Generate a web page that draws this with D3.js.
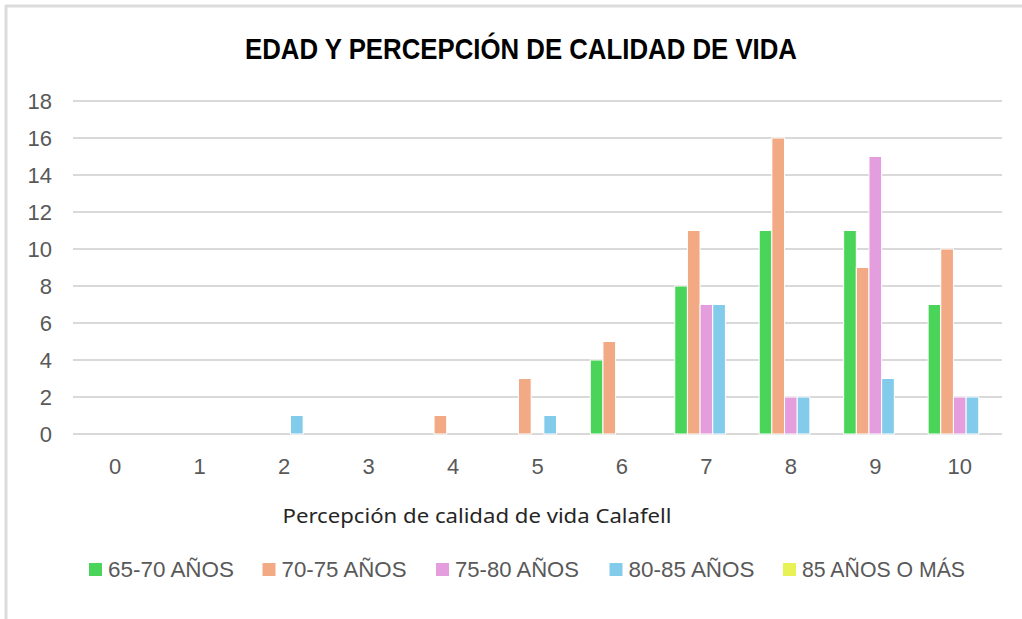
<!DOCTYPE html>
<html>
<head>
<meta charset="utf-8">
<script src="https://cdn.jsdelivr.net/npm/d3@7"></script>
<style>
  body { margin: 0; background: #fff; }
</style>
</head>
<body>
<div id="chart"></div>
<script>
// chart data
const categories = ["0", "1", "2", "3", "4", "5", "6", "7", "8", "9", "10"];
const seriesNames = ["65-70 AÑOS", "70-75 AÑOS", "75-80 AÑOS", "80-85 AÑOS", "85 AÑOS O MÁS"];
const s6570 = [0, 0, 0, 0, 0, 0, 4, 8, 11, 11, 7];
const s7075 = [0, 0, 0, 0, 1, 3, 5, 11, 16, 9, 10];
const s7580 = [0, 0, 0, 0, 0, 0, 0, 7, 2, 15, 2];
const s8085 = [0, 0, 1, 0, 0, 1, 0, 7, 2, 3, 2];
const s85 = [0, 0, 0, 0, 0, 0, 0, 0, 0, 0, 0];
const yTicks = [0, 2, 4, 6, 8, 10, 12, 14, 16, 18];
const colors = ["#4ad55a", "#f2aa84", "#e59edd", "#83cbeb", "#e8f255"];

const series = [s6570, s7075, s7580, s8085, s85];

const width = 1022, height = 619;
const margin = { top: 101, right: 20, bottom: 185, left: 73 };
const tickFont = "'Liberation Sans', Arial, sans-serif";

const svg = d3.select("#chart")
  .append("svg")
  .attr("width", width)
  .attr("height", height);

// light frame on top and left, like the screenshot crop
svg.append("line")
  .attr("x1", 5).attr("x2", width).attr("y1", 6).attr("y2", 6)
  .attr("stroke", "#dcdcdc").attr("stroke-width", 3);
svg.append("line")
  .attr("x1", 6).attr("x2", 6).attr("y1", 5).attr("y2", height)
  .attr("stroke", "#dcdcdc").attr("stroke-width", 3);

const x0 = d3.scaleBand()
  .domain(categories)
  .range([margin.left, 1002])
  .paddingInner(0.25)
  .paddingOuter(0.125);

const x1 = d3.scaleBand()
  .domain(d3.range(series.length))
  .range([0, x0.bandwidth()]);

const y = d3.scaleLinear()
  .domain([0, 18])
  .range([434, margin.top]);

// gridlines
svg.append("g")
  .selectAll("line")
  .data(yTicks)
  .join("line")
  .attr("x1", margin.left)
  .attr("x2", 1002)
  .attr("y1", d => y(d))
  .attr("y2", d => y(d))
  .attr("stroke", "#d9d9d9")
  .attr("stroke-width", 2);

// y axis labels
const yAxis = d3.axisLeft(y).tickValues(yTicks).tickSize(0).tickPadding(21);
svg.append("g")
  .attr("transform", `translate(${margin.left},0)`)
  .call(yAxis)
  .call(g => g.select(".domain").remove())
  .selectAll("text")
  .attr("font-family", tickFont)
  .attr("font-size", 22)
  .attr("fill", "#595959");

// x axis labels
const xAxis = d3.axisBottom(x0).tickSize(0).tickPadding(24);
svg.append("g")
  .attr("transform", "translate(0,434)")
  .call(xAxis)
  .call(g => g.select(".domain").remove())
  .selectAll("text")
  .attr("font-family", tickFont)
  .attr("font-size", 22)
  .attr("fill", "#595959");

// bars
const groups = svg.append("g")
  .selectAll("g")
  .data(categories)
  .join("g")
  .attr("transform", d => `translate(${x0(d)},0)`);

groups.selectAll("rect")
  .data((d, i) => series.map((s, k) => ({ k, v: s[i] })))
  .join("rect")
  .filter(d => d.v > 0)
  .attr("x", d => x1(d.k))
  .attr("width", x1.bandwidth())
  .attr("y", d => y(d.v))
  .attr("height", d => y(0) - y(d.v))
  .attr("fill", d => colors[d.k])
  .attr("stroke", "#fff")
  .attr("stroke-width", 1);

// title
svg.append("text")
  .attr("x", 521)
  .attr("y", 59)
  .attr("text-anchor", "middle")
  .attr("font-family", "'Liberation Sans Narrow', 'Liberation Sans', sans-serif")
  .attr("font-weight", "bold")
  .attr("font-size", 30)
  .attr("fill", "#000")
  .attr("textLength", 552)
  .attr("lengthAdjust", "spacingAndGlyphs")
  .text("EDAD Y PERCEPCIÓN DE CALIDAD DE VIDA");

// x axis title
svg.append("text")
  .attr("x", 477)
  .attr("y", 523)
  .attr("text-anchor", "middle")
  .attr("font-family", "'Noto Sans', sans-serif")
  .attr("font-size", 19)
  .attr("fill", "#262626")
  .attr("textLength", 389)
  .attr("lengthAdjust", "spacingAndGlyphs")
  .text("Percepción de calidad de vida Calafell");

// legend
const legendW = [126, 125, 124, 126, 163];
const legend = svg.append("g")
  .selectAll("g")
  .data(seriesNames)
  .join("g")
  .attr("transform", (d, i) => `translate(${89 + i * 173.5},563)`);

legend.append("rect")
  .attr("x", 0)
  .attr("y", 0)
  .attr("width", 13)
  .attr("height", 13)
  .attr("fill", (d, i) => colors[i]);

legend.append("text")
  .attr("x", 19)
  .attr("y", 14)
  .attr("font-family", tickFont)
  .attr("font-size", 22)
  .attr("fill", "#595959")
  .attr("textLength", (d, i) => legendW[i])
  .attr("lengthAdjust", "spacingAndGlyphs")
  .text(d => d);
</script>
</body>
</html>
